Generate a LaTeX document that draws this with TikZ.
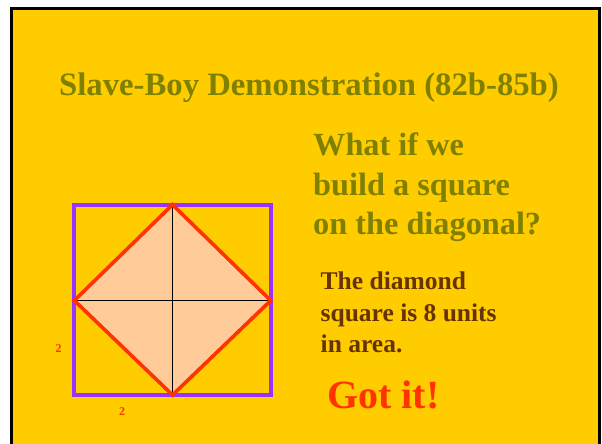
\documentclass[tikz,border=0pt]{standalone}
\usepackage{fontspec}
\setmainfont{Liberation Serif}
\usetikzlibrary{positioning}
\definecolor{SlideGold}{HTML}{FFCC00}
\definecolor{BoyOlive}{HTML}{808000}
\definecolor{BoyBrown}{HTML}{663300}
\definecolor{BoyRed}{HTML}{FF3300}
\definecolor{BoyPurple}{HTML}{9933FF}
\definecolor{BoyPeach}{HTML}{FFCC99}
\tikzset{
  slide/.style={x=1pt, y=-1pt, every node/.style={inner sep=0pt, font=\bfseries}},
  frame/.style={draw=black, line width=3pt, fill=SlideGold},
  outersq/.style={draw=BoyPurple, line width=4pt},
  diamondsq/.style={draw=BoyRed, line width=3.6pt, line join=miter},
  crossline/.style={draw=black, line width=1.2pt},
  heading/.style={text=BoyOlive, font=\bfseries\fontsize{32.3}{39.5}\selectfont, align=left},
  remark/.style={text=BoyBrown, font=\bfseries\fontsize{25.5}{31.8}\selectfont, align=left},
  sidelen/.style={text=BoyRed, font=\bfseries\fontsize{12}{14}\selectfont}
}

\begin{document}
\begin{tikzpicture}[slide]
\useasboundingbox (0,0) rectangle (602,444);
\fill[white] (0,0) rectangle (602,444);
\draw[frame] (11.5,8.5) rectangle (599.5,470);
\node[text=BoyOlive, font=\bfseries\fontsize{32.7}{39}\selectfont, anchor=base] (title) at (309,95) {Slave-Boy Demonstration (82b-85b)};
% square on the side, and the diamond on its diagonals
\coordinate (dtop) at (172.5,204.7); \coordinate (dbot) at (172.5,395);
\coordinate (dleft) at (74.3,300.5); \coordinate (dright) at (270.7,300.5);
\draw[outersq] (74.3,204.7) rectangle (270.7,395);
\fill[BoyPeach] (dtop) -- (dright) -- (dbot) -- (dleft) -- cycle;
\draw[crossline] (dleft) -- (dright); \draw[crossline] (dtop) -- (dbot);
\draw[diamondsq] (dtop) -- (dright) -- (dbot) -- (dleft) -- cycle;
\node[sidelen] (sideA) at (58.7,349) {2};
\node[sidelen] (sideB) at (122,412) {2};
\node[heading, anchor=north west] (question) at (313,133) {What if we\\build a square\\on the diagonal?};
\node[remark, anchor=north west] (answer) at (320.5,271.5) {The diamond\\square is 8 units\\in area.};
\node[text=BoyRed, font=\bfseries\fontsize{40}{44}\selectfont, anchor=base west] (gotit) at (327,408.3) {Got it!};
\end{tikzpicture}
\end{document}
